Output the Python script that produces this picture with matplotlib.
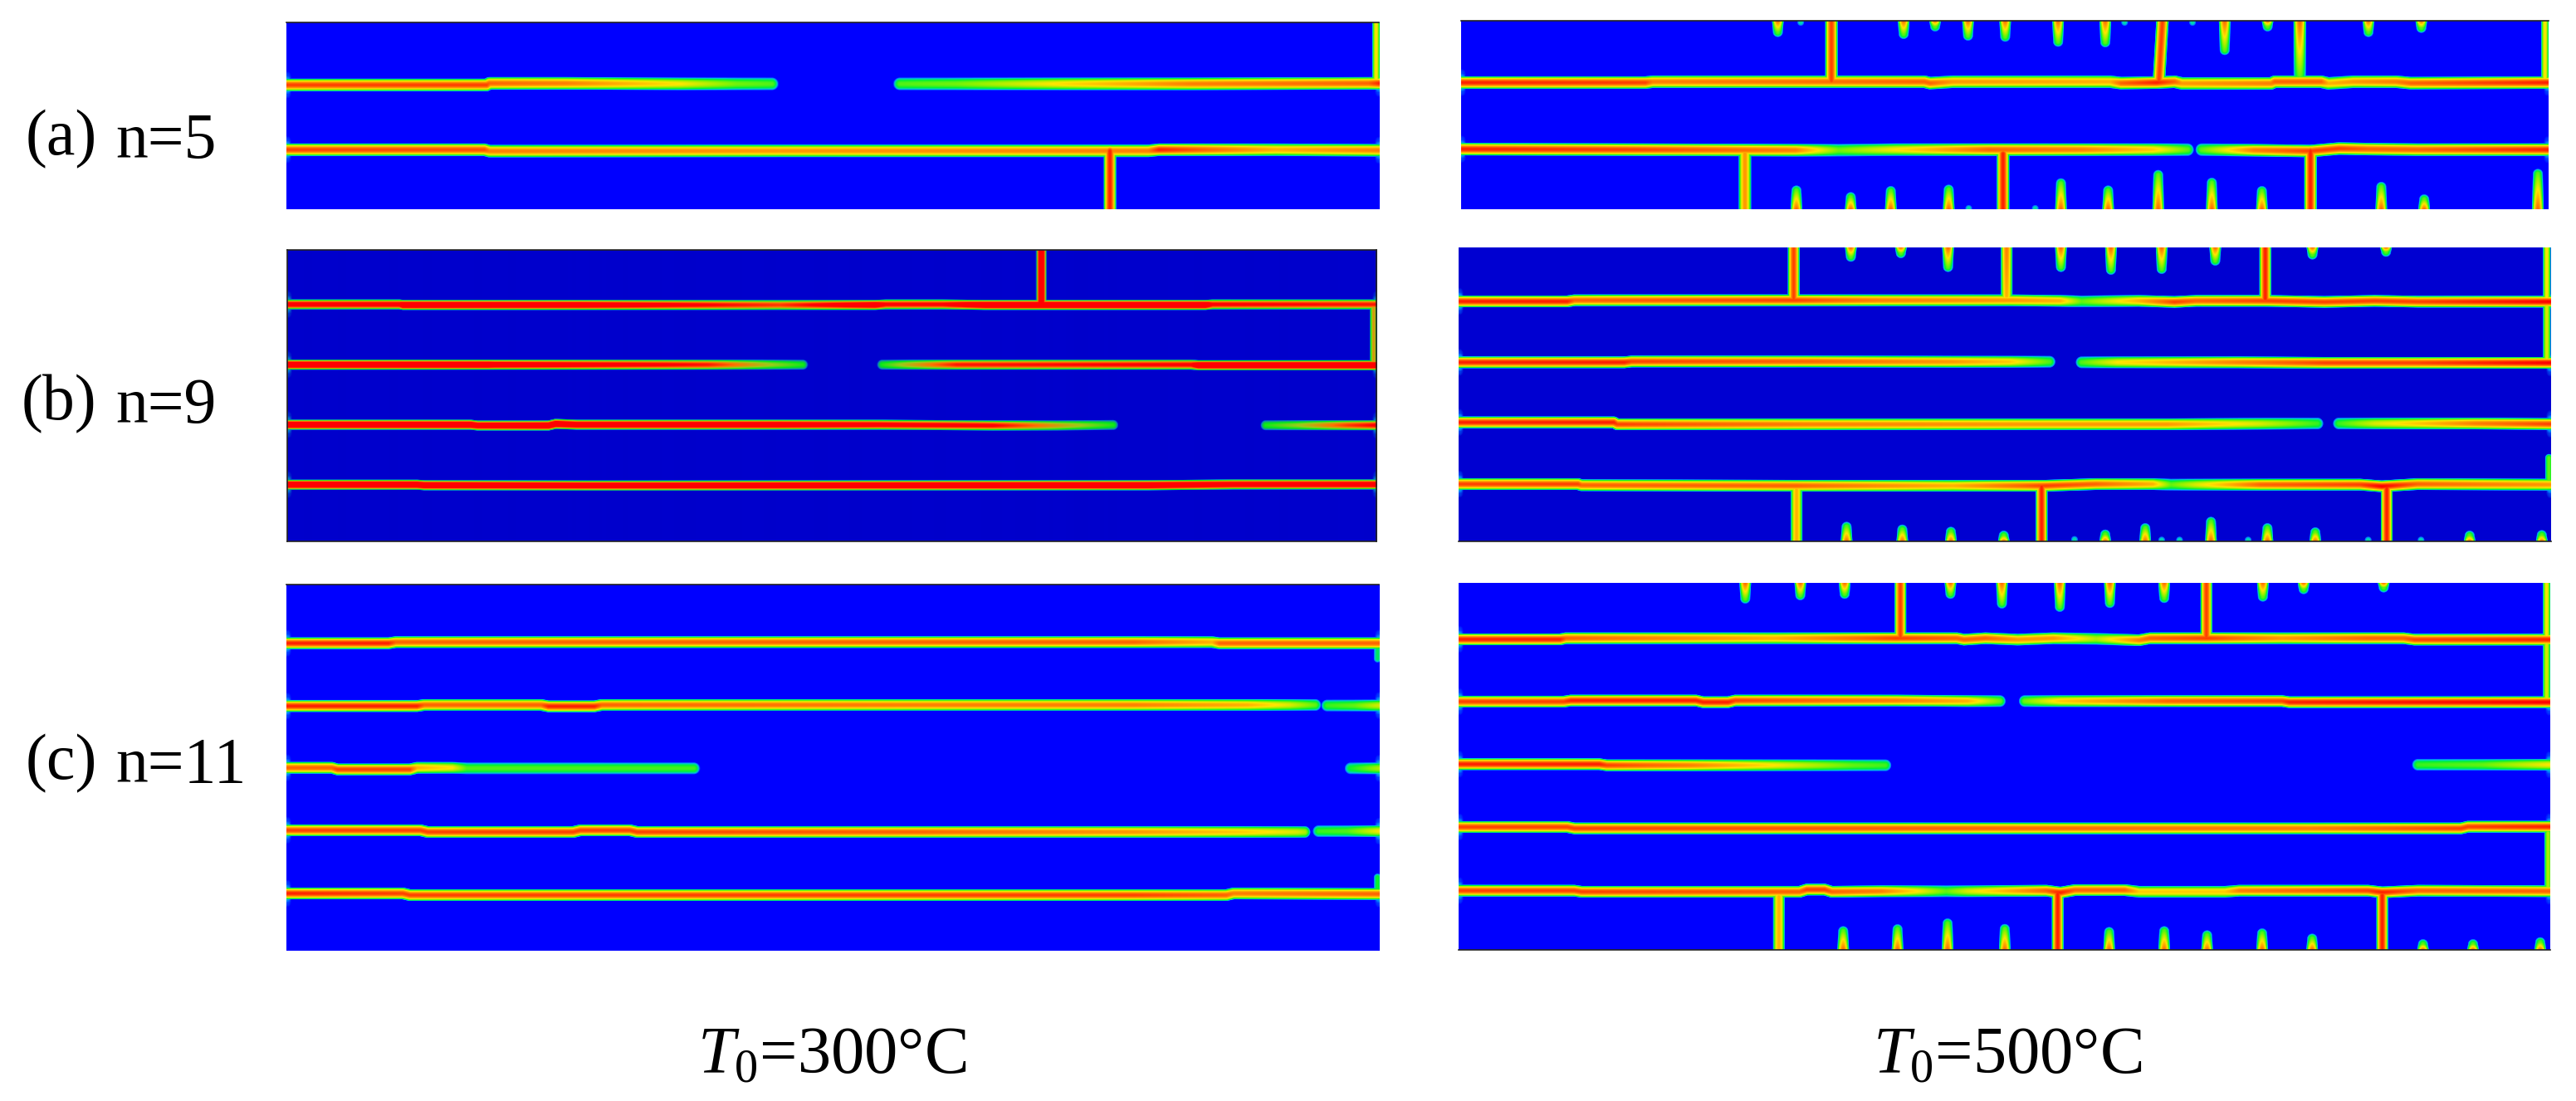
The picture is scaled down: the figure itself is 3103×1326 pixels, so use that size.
import numpy as np
import matplotlib
matplotlib.use("Agg")
import matplotlib.pyplot as plt
from matplotlib.colors import LinearSegmentedColormap

plt.rcParams['font.family'] = ['Liberation Serif', 'DejaVu Serif']
plt.rcParams['mathtext.fontset'] = 'custom'
plt.rcParams['mathtext.rm'] = 'Liberation Serif'
plt.rcParams['mathtext.it'] = 'Liberation Serif:italic'

FW, FH = 3103, 1326

# cracks: (x list, y list, damage list) in the units of each panel's own axes
# (a) n=5, T0=300
al_h = [([6, 288, 292, 400, 560, 640, 690], [276, 276, 270, 270, 272, 272, 272], [.9, .9, .85, .8, .6, .42, .38]),
        ([870, 950, 1100, 1280, 1530, 1546], [272, 272, 272, 272, 270, 270], [.38, .42, .62, .8, .85, .95]),
        ([6, 285, 292, 700, 1220, 1235, 1400, 1546], [510, 510, 515, 514, 514, 510, 510, 512], [.9, .88, .8, .75, .8, .95, .7, .8])]
al_v = [([1166, 1166], [515, 725], [.95, .95])]
al_edge = [([1541, 1541], [50, 265], [.6, .6])]

# (a) n=5, T0=500
ar_h = [([12, 270, 280, 660, 668, 700, 920, 935, 985, 1010, 1020, 1145, 1150, 1215, 1225, 1260, 1320, 1340, 1533],
         [268, 268, 265, 265, 270, 265, 265, 270, 268, 265, 271, 271, 265, 265, 271, 265, 265, 270, 268],
         [.95, .9, .8, .85, .85, .75, .7, .85, .95, .85, .75, .8, .85, .85, .7, .75, .8, .85, .95]),
        ([12, 260, 480, 540, 620, 750, 880, 980, 1028], [508, 510, 512, 512, 510, 510, 510, 510, 510], [.95, .9, .8, .42, .6, .85, .8, .65, .4]),
        ([1048, 1120, 1200, 1240, 1280, 1350, 1533], [510, 512, 515, 506, 508, 510, 510], [.4, .8, .9, .9, .85, .85, .95])]
ar_v = [([530, 530], [45, 262], [.9, .9]), ([993, 988], [45, 262], [.9, .9]), ([1185, 1185], [45, 245], [.85, .4]),
        ([409, 409], [525, 725], [.75, .75]), ([770, 770], [525, 725], [.95, .95]), ([1200, 1200], [515, 725], [.95, .95])]
ar_edge = [([1528, 1528], [45, 265], [.6, .6])]
ar_top_x = [455, 631, 675, 721, 773, 847, 913, 1080, 1140, 1281, 1355]
ar_top_tip = [105, 112, 85, 118, 122, 140, 142, 170, 85, 105, 90]
ar_bot_x = [481, 557, 613, 694, 851, 917, 987, 1062, 1132, 1299, 1359, 1518]
ar_bot_tip = [638, 662, 640, 635, 612, 638, 582, 610, 640, 625, 670, 578]
ar_bump_x = [487, 940, 1035, 722, 815]
ar_bump_y = [50, 50, 50, 722, 722]

# (b) n=9, T0=300
bl_h = [([7, 165, 170, 420, 700, 835, 850, 930, 990, 1060, 1075, 1300, 1310, 1542],
         [230, 230, 232, 232, 232, 232, 230, 230, 232, 232, 232, 232, 230, 230],
         [.85, .85, 1, .95, .7, .95, .8, .8, 1, 1, 1, 1, .8, .75]),
        ([7, 290, 300, 540, 600, 690, 733], [448, 448, 448, 448, 448, 448, 448], [1, 1, .95, .8, .75, .45, .33]),
        ([845, 880, 950, 1280, 1290, 1530, 1542], [448, 448, 448, 448, 450, 450, 450], [.33, .5, .75, .8, 1, 1, 1]),
        ([7, 265, 275, 375, 385, 415, 700, 840, 1000, 1090, 1170], [665, 665, 668, 668, 662, 665, 665, 665, 668, 668, 666], [1, 1, .95, 1, 1, .95, .95, .85, .8, .55, .33]),
        ([1385, 1430, 1500, 1542], [667, 667, 667, 667], [.33, .45, .7, .8]),
        ([7, 190, 200, 430, 510, 1220, 1340, 1542], [882, 882, 884, 885, 885, 884, 881, 881], [1, 1, 1, .95, .95, 1, .9, .9])]
bl_v = [([1069, 1069], [35, 225], [1, 1])]
bl_edge = [([1537, 1537], [245, 440], [.55, .55])]

# (b) n=9, T0=500
br_h = [([8, 160, 170, 480, 600, 780, 850, 880, 960, 1010, 1040, 1140, 1220, 1290, 1350, 1537],
         [220, 220, 216, 216, 216, 216, 218, 220, 218, 222, 218, 218, 222, 218, 221, 221],
         [.95, .95, .85, .9, .8, .75, .7, .4, .7, .9, .85, .9, .9, .9, .9, 1]),
        ([8, 240, 250, 500, 700, 780, 835], [440, 440, 437, 437, 438, 438, 438], [.95, .95, .9, .85, .75, .65, .38]),
        ([880, 930, 1100, 1220, 1350, 1537], [440, 440, 440, 442, 442, 442], [.38, .6, .8, .9, .9, 1]),
        ([8, 225, 230, 500, 800, 1000, 1130, 1210], [657, 657, 664, 664, 664, 664, 662, 661], [.95, .95, .9, .8, .75, .75, .55, .35]),
        ([1240, 1290, 1430, 1537], [661, 661, 661, 663], [.35, .55, .8, .9]),
        ([8, 175, 180, 480, 700, 830, 900, 980, 1005, 1040, 1130, 1270, 1300, 1350, 1537],
         [880, 880, 884, 886, 886, 886, 880, 880, 882, 882, 882, 882, 888, 880, 882],
         [.9, .9, .85, .85, .7, .9, .85, .7, .4, .55, .85, .9, 1, .85, .75])]
br_v = [([477, 477], [25, 210], [.9, .9]), ([775, 775], [25, 200], [.8, .7]), ([1137, 1137], [25, 210], [.95, .95]),
        ([481, 481], [900, 1087], [.7, .7]), ([824, 824], [890, 1087], [.95, .95]), ([1307, 1307], [890, 1087], [.95, .95])]
br_edge = [([1531, 1531], [25, 215], [.6, .6]), ([1531, 1531], [235, 430], [.55, .55]), ([1534, 1534], [785, 875], [.4, .4])]
br_top_x = [557, 627, 693, 851, 921, 992, 1067, 1203, 1306]
br_top_tip = [78, 65, 115, 115, 125, 122, 92, 70, 60]
br_bot_x = [551, 629, 697, 771, 913, 969, 1061, 1140, 1207, 1423, 1524]
br_bot_tip = [1015, 1025, 1033, 1047, 1043, 1020, 997, 1020, 1035, 1047, 1045]
br_bump_x = [870, 992, 1017, 1113, 1281, 1355]
br_bump_y = [1080, 1082, 1082, 1082, 1082, 1082]

# (c) n=11, T0=300
cl_h = [([6, 150, 160, 1200, 1310, 1320, 1546], [254, 254, 250, 250, 250, 254, 254], [.95, .95, .85, .85, .7, .85, .85]),
        ([6, 190, 200, 365, 375, 440, 450, 900, 1200, 1360, 1420, 1455], [481, 481, 477, 477, 482, 482, 477, 477, 477, 477, 477, 477],
         [.95, .95, .85, .85, .95, .95, .85, .8, .8, .7, .55, .4]),
        ([1472, 1510, 1546], [479, 479, 479], [.35, .4, .55]),
        ([6, 70, 78, 180, 190, 240, 260, 580], [704, 704, 710, 710, 704, 704, 706, 706], [.85, .85, .9, .9, .7, .6, .38, .36]),
        ([1505, 1546], [706, 706], [.3, .5]),
        ([6, 195, 205, 410, 420, 490, 500, 900, 1200, 1350, 1430, 1440], [930, 930, 936, 936, 930, 930, 936, 936, 936, 936, 936, 936],
         [.9, .9, .9, .9, .9, .9, .9, .85, .75, .65, .55, .5]),
        ([1460, 1500, 1546], [933, 933, 933], [.35, .38, .6]),
        ([6, 170, 180, 1200, 1330, 1340, 1546], [1158, 1158, 1164, 1164, 1164, 1158, 1160], [.95, .9, .9, .9, .85, .8, .85])]
cl_edge = [([1543, 1543], [260, 310], [.25, .25]), ([1543, 1543], [1100, 1150], [.3, .3])]

# (c) n=11, T0=500
cr_h = [([8, 150, 158, 450, 620, 705, 715, 745, 790, 840, 900, 960, 975, 1055, 1160, 1280, 1330, 1345, 1535],
         [240, 240, 236, 236, 236, 236, 241, 236, 241, 236, 238, 243, 236, 236, 236, 236, 236, 241, 241],
         [.95, .95, .85, .7, .9, .85, .85, .85, .75, .75, .5, .8, .85, .9, .75, .85, .85, .9, .95]),
        ([8, 155, 165, 340, 350, 385, 395, 620, 720, 765], [465, 465, 461, 461, 467, 467, 461, 461, 463, 463], [.9, .9, .95, .95, .95, .95, .9, .8, .7, .42]),
        ([800, 850, 1000, 1160, 1170, 1535], [463, 463, 463, 463, 467, 467], [.42, .65, .85, .9, .95, 1]),
        ([8, 205, 215, 330, 450, 560, 605], [691, 691, 695, 695, 695, 695, 695], [.95, .95, .9, .8, .6, .4, .36]),
        ([1350, 1440, 1535], [693, 693, 693], [.35, .4, .6]),
        ([8, 160, 170, 700, 1200, 1410, 1420, 1535], [918, 918, 923, 923, 923, 923, 917, 917], [.9, .9, .9, .85, .8, .9, .9, .95]),
        ([8, 170, 180, 485, 495, 520, 530, 600, 650, 690, 720, 830, 850, 870, 940, 960, 1080, 1100, 1280, 1300, 1350, 1535],
         [1148, 1148, 1152, 1152, 1144, 1144, 1152, 1150, 1150, 1150, 1150, 1148, 1155, 1146, 1146, 1152, 1152, 1148, 1148, 1154, 1148, 1150],
         [.9, .9, .9, .85, .9, .9, .85, .8, .6, .4, .55, .85, .95, .85, .85, .65, .65, .8, .9, .95, .85, .85])]
cr_v = [([626, 626], [36, 230], [.9, .9]), ([1054, 1054], [36, 230], [.9, .9]),
        ([456, 456], [1170, 1362], [.7, .7]), ([846, 846], [1160, 1362], [.95, .95]), ([1300, 1300], [1165, 1362], [.95, .95])]
cr_edge = [([1530, 1530], [36, 232], [.6, .6]), ([1530, 1530], [250, 460], [.55, .55]), ([1532, 1532], [940, 1140], [.5, .5])]
cr_top_x = [409, 486, 548, 696, 768, 849, 919, 995, 1133, 1190, 1302]
cr_top_tip = [112, 100, 95, 95, 130, 142, 128, 110, 105, 78, 72]
cr_bot_x = [546, 622, 692, 772, 918, 995, 1055, 1132, 1202, 1357, 1427, 1521]
cr_bot_tip = [1275, 1268, 1247, 1267, 1278, 1275, 1290, 1283, 1302, 1322, 1322, 1315]

row_labels = ['(a)', '(b)', '(c)']
row_n = ['n=5', 'n=9', 'n=11']
col_labels = [r'$\mathit{T}_{0}$=300°C', r'$\mathit{T}_{0}$=500°C']


def make_cmap(bg, hot=False):
    if hot:
        stops = [(0, bg), (.12, (0, .5, .8)), (.2, (.1, .65, .45)), (.3, (0, .92, .1)), (.45, (.6, .8, .1)),
                 (.62, (1, .45, 0)), (.78, (1, 0, 0)), (1, (1, 0, 0))]
    else:
        stops = [(0, bg), (.08, (0, .45, 1)), (.16, (0, .8, .8)), (.28, (0, .95, .2)), (.45, (.55, .95, 0)),
                 (.6, (1, .9, 0)), (.84, (1, .42, 0)), (1, (1, 0, 0))]
    return LinearSegmentedColormap.from_list('pf', stops)


def add_crack(field, xg, yg, sx, sy, xs, ys, ps, w, w_end=None):
    # each segment goes into the field, damage falls off over the half width w
    if w_end is None:
        w_end = w
    for i in range(len(xs) - 1):
        x0, x1 = xs[i] / sx, xs[i + 1] / sx
        y0, y1 = ys[i] / sy, ys[i + 1] / sy
        wm = max(w, w_end)
        i0 = max(np.searchsorted(xg, min(x0, x1) - wm - 1), 0)
        i1 = np.searchsorted(xg, max(x0, x1) + wm + 1)
        j0 = max(np.searchsorted(yg, min(y0, y1) - wm - 1), 0)
        j1 = np.searchsorted(yg, max(y0, y1) + wm + 1)
        if i1 <= i0 or j1 <= j0:
            continue
        X, Y = np.meshgrid(xg[i0:i1], yg[j0:j1])
        dx, dy = x1 - x0, y1 - y0
        t = np.clip(((X - x0) * dx + (Y - y0) * dy) / max(dx * dx + dy * dy, 1e-9), 0, 1)
        d = np.hypot(X - x0 - t * dx, Y - y0 - t * dy)
        p = ps[i] + t * (ps[i + 1] - ps[i])
        wt = w + t * (w_end - w)
        val = p * np.clip(1 - (d / wt) ** 2, 0, 1)
        field[j0:j1, i0:i1] = np.maximum(field[j0:j1, i0:i1], val)


def draw_panel(box, xlim, ylim, bg, h, v=(), edge=(), top=None, bot=None, bump=None, w=8, hot=False, spines=('top',)):
    ax = fig.add_axes([box[0] / FW, 1 - box[3] / FH, (box[2] - box[0]) / FW, (box[3] - box[1]) / FH])
    nx, ny = box[2] - box[0], box[3] - box[1]
    sx = (xlim[1] - xlim[0]) / nx
    sy = (ylim[1] - ylim[0]) / ny
    xg = (xlim[0] + (np.arange(nx) + .5) * sx) / sx
    yg = (ylim[0] + (np.arange(ny) + .5) * sy) / sy
    field = np.zeros((ny, nx))
    for xs, ys, ps in h:
        add_crack(field, xg, yg, sx, sy, xs, ys, ps, w)
        # the cracks flare out where they meet the side of the plate
        for k in (0, -1):
            if abs(xs[k] - xlim[0]) < 20 or abs(xs[k] - xlim[1]) < 20:
                add_crack(field, xg, yg, sx, sy, [xs[k], xs[k], xs[k]], [ys[k] - 11 * sy, ys[k], ys[k] + 11 * sy], [.05, .3, .05], 6)
    for xs, ys, ps in v:
        add_crack(field, xg, yg, sx, sy, xs, ys, ps, w)
    for xs, ys, ps in edge:
        add_crack(field, xg, yg, sx, sy, xs, ys, ps, 5)
    if top:
        for x, tip in zip(*top):
            add_crack(field, xg, yg, sx, sy, [x, x], [ylim[0], tip - 6.5 * sy], [.85, .4], 7.5, 6.5)
    if bot:
        for x, tip in zip(*bot):
            add_crack(field, xg, yg, sx, sy, [x, x], [ylim[1], tip + 6.5 * sy], [.85, .4], 7.5, 6.5)
    if bump:
        for x, y in zip(*bump):
            add_crack(field, xg, yg, sx, sy, [x, x], [y, y + 1], [.2, .2], 4.5)
    ax.imshow(field, extent=(xlim[0], xlim[1], ylim[1], ylim[0]), aspect='auto', vmin=0, vmax=1,
              cmap=make_cmap(bg, hot), interpolation='bilinear')
    ax.set_xticks([])
    ax.set_yticks([])
    for name, sp in ax.spines.items():
        sp.set_visible(name in spines)
        sp.set_linewidth(1.2)
        sp.set_color('#222222')
    return ax


fig = plt.figure(figsize=(FW / 100, FH / 100), dpi=100, facecolor='white')

blue = (0, 0, 1)
dark = (0, 0, .8)
draw_panel((345, 27, 1661, 252), (6, 1546), (50, 725), blue, al_h, al_v, al_edge)
draw_panel((1760, 25, 3070, 252), (12, 1533), (45, 725), blue, ar_h, ar_v, ar_edge,
           (ar_top_x, ar_top_tip), (ar_bot_x, ar_bot_tip), (ar_bump_x, ar_bump_y))
draw_panel((346, 301, 1658, 652), (7, 1542), (33, 1087), dark, bl_h, bl_v, bl_edge, w=6.5, hot=True,
           spines=('top', 'bottom', 'left', 'right'))
draw_panel((1757, 298, 3073, 652), (8, 1537), (25, 1087), (0, 0, .82), br_h, br_v, br_edge,
           (br_top_x, br_top_tip), (br_bot_x, br_bot_tip), (br_bump_x, br_bump_y), w=7.5, spines=('bottom',))
draw_panel((345, 704, 1661, 1145), (6, 1546), (42, 1365), blue, cl_h, (), cl_edge, w=7.5)
draw_panel((1757, 702, 3072, 1144), (8, 1535), (36, 1362), blue, cr_h, cr_v, cr_edge,
           (cr_top_x, cr_top_tip), (cr_bot_x, cr_bot_tip), w=7.5, spines=('bottom',))

# row and column labels
for lab, n, xl, yc in zip(row_labels, row_n, [31, 26, 31], [168, 487, 920]):
    fig.text(xl / FW, 1 - yc / FH, lab, fontsize=56, va='center', ha='left', color='black')
    fig.text(139 / FW, 1 - (yc + 3) / FH, n, fontsize=56, va='center', ha='left', color='black')
for lab, xl in zip(col_labels, [840, 2256]):
    fig.text(xl / FW, 1 - 1292 / FH, lab, fontsize=58, va='baseline', ha='left', color='black')

fig.savefig('out.png', dpi=100, facecolor='white')
